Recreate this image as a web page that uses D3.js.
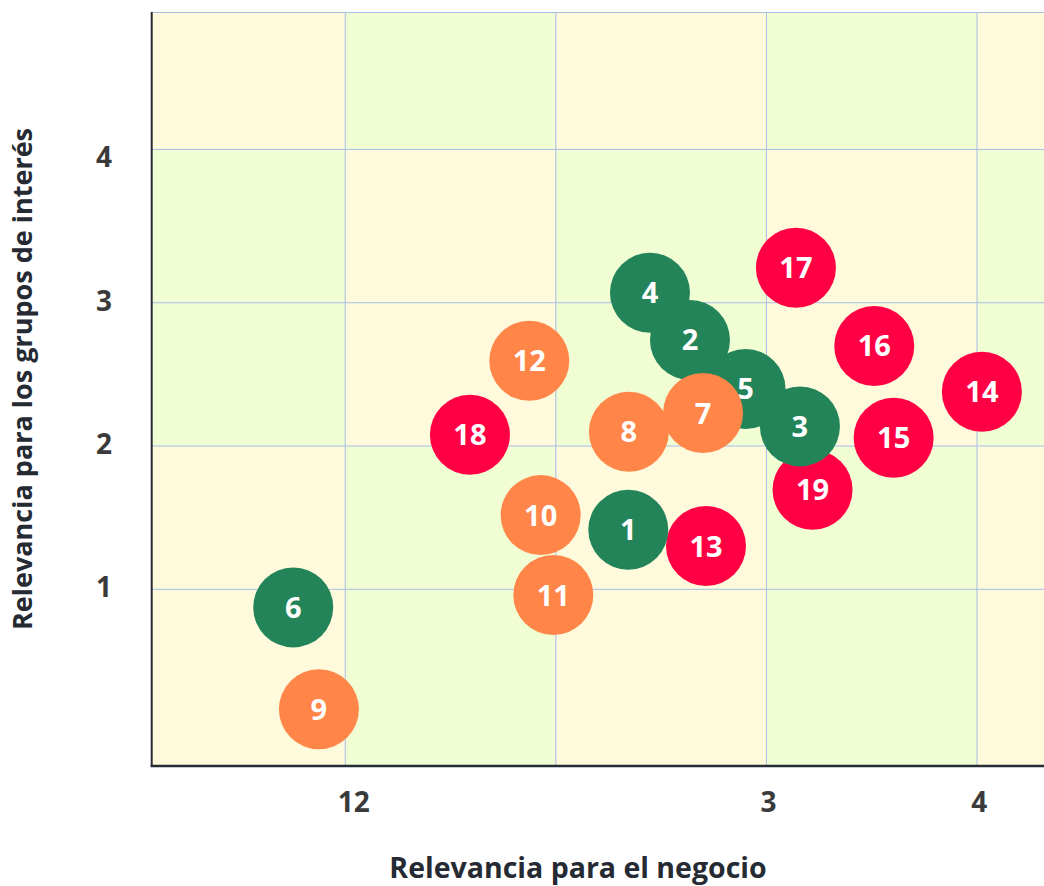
<!DOCTYPE html>
<html>
<head>
<meta charset="utf-8">
<script src="https://cdn.jsdelivr.net/npm/d3@7"></script>
<style>
  html, body { margin: 0; padding: 0; background: #ffffff; }
  svg { display: block; font-family: "Open Sans", sans-serif; }
</style>
</head>
<body>
<svg id="chart" width="1044" height="886"></svg>
<script>
// ---- data ----
const pointIds   = [19, 13, 14, 15, 16, 17, 18, 6, 4, 2, 5, 9, 10, 11, 12, 8, 7, 1, 3];
const pointX     = [3.219, 2.713, 4.023, 3.604, 3.512, 3.140, 1.592, 0.753, 2.447, 2.637, 2.901, 0.875, 1.928, 1.988, 1.874, 2.347, 2.699, 2.344, 3.159];
const pointY     = [1.695, 1.302, 2.379, 2.058, 2.698, 3.244, 2.079, 0.874, 3.070, 2.740, 2.398, 0.163, 1.518, 0.960, 2.595, 2.100, 2.230, 1.416, 2.137];
const pointGroup = ["alta","alta","alta","alta","alta","alta","alta","baja","baja","baja","baja","media","media","media","media","media","media","baja","baja"];
const groupNames  = ["baja", "media", "alta"];
const groupColors = ["#23845a", "#ff8548", "#ff0044"];

const xDomain = [0.081, 4.318];
const yDomain = [-0.233, 5.029];
const xGridValues = [1, 2, 3, 4];
const yGridValues = [1, 2, 3, 4.07];
const xBandEdges = [0.081, 1, 2, 3, 4, 4.318];
const yBandEdges = [-0.233, 2, 4.07, 5.029];
const bandColors = ["#fefadb", "#f1fdd3"];
const xTickValues = [1.04, 3.01, 4.01];
const xTickLabels = ["12", "3", "4"];
const yTickValues = [1, 2, 3, 4];
const yTickLabels = ["1", "2", "3", "4"];
const xTitle = "Relevancia para el negocio";
const yTitle = "Relevancia para los grupos de interés";

// ---- layout ----
const plot = { left: 151.7, right: 1044, top: 12, bottom: 766 };
const radius = 40;

const svg = d3.select("#chart");
const x = d3.scaleLinear().domain(xDomain).range([plot.left, plot.right]);
const y = d3.scaleLinear().domain(yDomain).range([plot.bottom, plot.top]);
const color = d3.scaleOrdinal().domain(groupNames).range(groupColors);

// background checkerboard bands
const cells = [];
for (let r = 0; r < yBandEdges.length - 1; r++) {
  for (let c = 0; c < xBandEdges.length - 1; c++) {
    cells.push({ x0: xBandEdges[c], x1: xBandEdges[c + 1], y0: yBandEdges[r], y1: yBandEdges[r + 1], k: (r + c) % 2 });
  }
}
svg.append("g").selectAll("rect").data(cells).join("rect")
  .attr("x", d => x(d.x0))
  .attr("y", d => y(d.y1))
  .attr("width", d => x(d.x1) - x(d.x0))
  .attr("height", d => y(d.y0) - y(d.y1))
  .attr("fill", d => bandColors[d.k]);

// grid lines
const grid = svg.append("g").attr("stroke", "#a9bde6").attr("stroke-width", 1);
grid.selectAll("line.vx").data(xGridValues).join("line")
  .attr("x1", d => x(d)).attr("x2", d => x(d))
  .attr("y1", plot.top).attr("y2", plot.bottom);
grid.selectAll("line.hy").data(yGridValues).join("line")
  .attr("x1", plot.left).attr("x2", plot.right)
  .attr("y1", d => y(d)).attr("y2", d => y(d));
grid.append("line")
  .attr("x1", plot.left).attr("x2", plot.right)
  .attr("y1", plot.top + 0.5).attr("y2", plot.top + 0.5);

// axis lines
svg.append("line")
  .attr("x1", plot.left).attr("x2", plot.left)
  .attr("y1", plot.top).attr("y2", plot.bottom + 1)
  .attr("stroke", "#262c36").attr("stroke-width", 2);
svg.append("line")
  .attr("x1", plot.left - 1).attr("x2", plot.right)
  .attr("y1", plot.bottom).attr("y2", plot.bottom)
  .attr("stroke", "#262c36").attr("stroke-width", 2.5);

// tick labels
svg.append("g").selectAll("text").data(xTickValues).join("text")
  .attr("x", d => x(d))
  .attr("y", 812)
  .attr("text-anchor", "middle")
  .attr("font-size", 28).attr("font-weight", 700).attr("fill", "#3a3a3a")
  .text((d, i) => xTickLabels[i]);

svg.append("g").selectAll("text").data(yTickValues).join("text")
  .attr("x", 104)
  .attr("y", d => y(d) + 8)
  .attr("text-anchor", "middle")
  .attr("font-size", 28).attr("font-weight", 700).attr("fill", "#3a3a3a")
  .text((d, i) => yTickLabels[i]);

// axis titles
svg.append("text")
  .attr("x", 578).attr("y", 878)
  .attr("text-anchor", "middle")
  .attr("font-size", 28.5).attr("font-weight", 700).attr("fill", "#252a33")
  .text(xTitle);
svg.append("text")
  .attr("transform", "translate(32,379) rotate(-90)")
  .attr("text-anchor", "middle")
  .attr("font-size", 27).attr("font-weight", 700).attr("fill", "#252a33")
  .text(yTitle);

// bubbles
const points = pointIds.map((id, i) => ({ id, x: pointX[i], y: pointY[i], g: pointGroup[i] }));
const nodes = svg.append("g").selectAll("g").data(points).join("g")
  .attr("transform", d => `translate(${x(d.x)},${y(d.y)})`);
nodes.append("circle").attr("r", radius).attr("fill", d => color(d.g));
nodes.append("text")
  .attr("text-anchor", "middle")
  .attr("dy", "0.36em")
  .attr("font-size", 29).attr("font-weight", 700).attr("fill", "#ffffff")
  .text(d => d.id);
</script>
</body>
</html>
